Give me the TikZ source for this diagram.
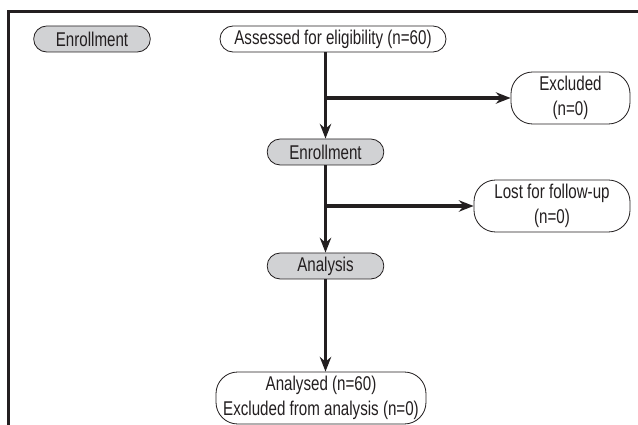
\documentclass[tikz,border=0pt]{standalone}
\usepackage{fontspec}
\setmainfont{Liberation Sans}[FakeStretch=0.76]
\usetikzlibrary{arrows.meta,positioning}
\definecolor{stage}{RGB}{209,210,212}
\definecolor{ink}{RGB}{35,31,32}
\tikzset{
  >={Stealth[length=4.4mm,width=3.4mm]},
  box/.style={draw=ink,fill=#1,rounded corners=3.9mm,line width=0.7pt,
    minimum height=7.8mm,align=center,font=\fontsize{17}{21.3}\selectfont,
    text=ink,inner xsep=1.5mm,inner ysep=0.8mm},
  box/.default=white,
  stagebox/.style={box=stage,minimum width=35mm},
  tallbox/.style={box,minimum height=15.6mm,rounded corners=6.5mm},
  flow/.style={->,line width=2.6pt,draw=ink},
}
\begin{document}
\begin{tikzpicture}[x=0.3mm,y=-0.3mm]
  \useasboundingbox (0,0) rectangle (638,425);
  % frame, open to the right and below
  \draw[ink,line width=2.2pt] (8.7,425) -- (8.7,11.3) -- (638,11.3);
  % stages
  \node[stagebox] (enrlabel) at (92,39) {Enrollment};
  \node[box,minimum width=67.8mm] (assessed) at (333,39) {Assessed for eligibility (n=60)};
  \node[stagebox] (enrollment) at (325.5,152) {Enrollment};
  \node[tallbox,minimum width=35.7mm] (excluded) at (570.5,98) {Excluded\\(n=0)};
  \node[tallbox,minimum width=46.8mm] (lost) at (552,206) {Lost for follow-up\\(n=0)};
  \node[stagebox] (analysis) at (325.5,266) {Analysis};
  \node[tallbox,minimum width=63mm] (analysed) at (321,398) {Analysed (n=60)\\Excluded from analysis (n=0)};
  % flow
  \coordinate (split1) at (enrollment |- excluded.west);
  \coordinate (split2) at (enrollment |- lost.west);
  \draw[flow] (assessed.south -| enrollment.north) -- (enrollment.north);
  \draw[flow] (split1) -- (excluded.west);
  \draw[flow] (enrollment.south) -- (analysis.north);
  \draw[flow] (split2) -- (lost.west);
  \draw[flow] (analysis.south) -- (analysis.south |- analysed.north);
\end{tikzpicture}
\end{document}
